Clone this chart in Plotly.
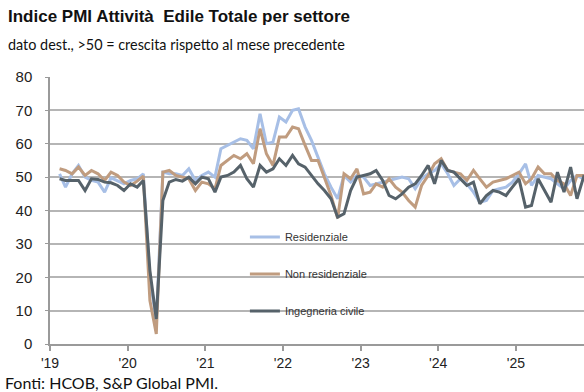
import pandas as pd
import plotly.graph_objects as go

months = pd.date_range("2019-01-15", periods=83, freq="MS") + pd.Timedelta(days=14)

residenziale = [
    51, 47, 51, 53.5, 50, 49, 48.5, 45.5, 49.8, 49, 48, 49, 49.5, 51,
    20, 7, 51.5, 51, 51, 50.5, 52.5, 49, 50.5, 51.5, 50,
    58.5, 59.5, 60.5, 61.5, 61, 58.5, 69, 60, 60.5, 68, 66.5, 70, 70.5, 65, 61,
    56, 51, 47, 43.5, 50.5, 48.5, 50.5, 50, 47.5, 48, 48.5, 49, 49.5, 50,
    49.5, 46.5, 49.5, 51, 52, 54, 51, 47.5, 49.5, 48, 45.5, 42.5, 43, 46,
    46.5, 47, 48.5, 51, 54, 47.5, 50.5, 50, 49.5, 48, 46.5, 49, 50.5, 49.5, 46.5,
]
non_residenziale = [
    52.5, 52, 51, 53, 50.5, 52, 51, 49, 51.5, 50.5, 48.5, 47.5, 48.8, 50.3,
    13, 3, 51.5, 52, 50.5, 50, 49.5, 46, 48.5, 48, 46.5,
    53.5, 55, 56.5, 55.5, 57, 54, 64.5, 57, 53.5, 62, 62, 65, 64.5, 59.5, 55,
    55, 50, 44.5, 37.7, 51, 49.5, 52.5, 45, 45.5, 48, 47, 49.5, 47, 45.5,
    43, 41, 47.5, 50.5, 54, 55.5, 52, 51.5, 51, 49, 52, 49.5, 47, 48.5,
    49, 49.5, 50.5, 51.5, 48, 49.5, 53, 51, 51, 49, 48, 44.5, 50.5, 50.5, 48.5,
]
ingegneria_civile = [
    49.5, 49, 49, 49, 46, 49.5, 49.3, 48.5, 48.3, 47.5, 46, 48, 47, 49,
    22, 7.5, 43, 48.5, 49.3, 48.8, 50, 48, 50, 49.5, 45.5,
    50, 50.5, 51.5, 53.5, 49.5, 47, 53.5, 51.5, 52.5, 55.5, 53.5, 56.5, 54, 53, 50.5,
    48, 46, 43.5, 38, 39, 46, 50, 50.5, 51, 52, 49, 44.5, 43.5, 45,
    47, 48, 50.5, 53.5, 48, 55, 52, 51.5, 49.5, 47.5, 48.5, 42, 44.5, 46,
    45.5, 44.5, 47, 49.5, 41, 41.5, 49.5, 46, 42.5, 51.5, 45.5, 53, 43.5, 50, 48,
]

year_ticks = pd.date_range("2019-01-01", periods=7, freq="YS")
year_labels = ["'19", "'20", "'21", "'22", "'23", "'24", "'25"]

series = [
    ("Residenziale", residenziale, "#a7bfe6"),
    ("Non residenziale", non_residenziale, "#c09c7f"),
    ("Ingegneria civile", ingegneria_civile, "#56626a"),
]

fig = go.Figure()
for name, vals, col in series:
    fig.add_trace(go.Scatter(
        x=months, y=vals, mode="lines", name=name, legendgroup=name,
        line=dict(color=col, width=3),
    ))

fig.update_layout(
    width=584, height=392,
    margin=dict(l=50, r=0, t=77, b=48),
    paper_bgcolor="white", plot_bgcolor="white",
    font=dict(family="Liberation Sans, Arial", color="#222222"),
    showlegend=True,
    legend=dict(
        x=0.365, y=0.455, xanchor="left", yanchor="top",
        bgcolor="rgba(0,0,0,0)", font=dict(size=11, color="#333333"),
        tracegroupgap=18,
    ),
    xaxis=dict(
        type="date", range=["2019-01-01", "2025-11-17"],
        tickvals=year_ticks, ticktext=year_labels,
        showgrid=False, showline=True, linecolor="#9a9a9a", linewidth=1.5,
        ticks="outside", ticklen=5, tickcolor="#9a9a9a", tickwidth=1.5,
        tickfont=dict(size=14, color="#222222"),
    ),
    yaxis=dict(
        range=[0, 80], dtick=10,
        showgrid=True, gridcolor="#b5b5b5", gridwidth=1.6,
        showline=True, linecolor="#9a9a9a", linewidth=1.5,
        ticks="outside", ticklen=3, tickcolor="#9a9a9a",
        tickfont=dict(size=15, color="#222222"),
        ticklabelstandoff=10, zeroline=False,
    ),
    annotations=[
        dict(text="<b>Indice PMI Attività  Edile Totale per settore</b>",
             xref="paper", yref="paper", x=-0.082, y=1.225, xanchor="left", yanchor="middle",
             showarrow=False, font=dict(size=17, family="Liberation Sans, Arial", color="#111111")),
        dict(text="dato dest., >50 = crescita rispetto al mese precedente",
             xref="paper", yref="paper", x=-0.082, y=1.12, xanchor="left", yanchor="middle",
             showarrow=False, font=dict(size=14.4, family="Lato", color="#111111")),
        dict(text="Fonti: HCOB, S&amp;P Global PMI.",
             xref="paper", yref="paper", x=-0.088, y=-0.143, xanchor="left", yanchor="middle",
             showarrow=False, font=dict(size=16, family="Lato", color="#111111")),
    ],
)

fig.write_html("out.html")
